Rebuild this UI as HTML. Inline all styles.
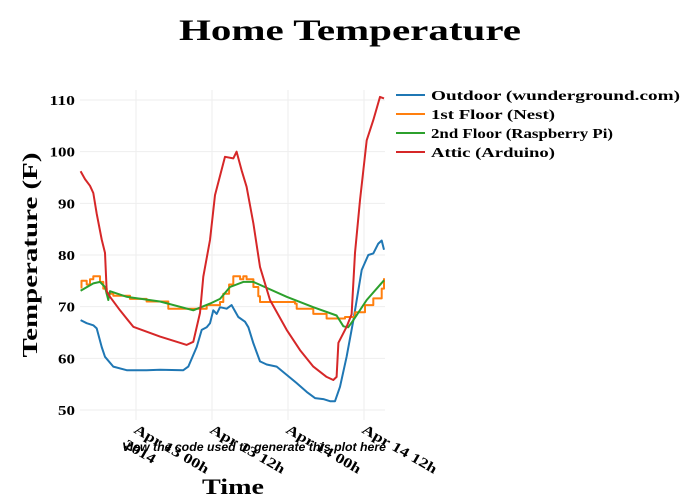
<!DOCTYPE html>
<html><head><meta charset="utf-8"><style>
body{margin:0;background:#fff}
svg{display:block}
text{font-family:"Liberation Serif",serif;font-weight:bold;fill:#000}
</style></head><body>
<svg id="chart" width="700" height="500">
<text x="350" y="40" text-anchor="middle" font-size="30" textLength="342" lengthAdjust="spacingAndGlyphs">Home Temperature</text>
<g id="grid"></g>
<g id="axes"></g>
<g id="series"></g>
<text transform="translate(37,255) rotate(-90)" text-anchor="middle" font-size="21" textLength="205" lengthAdjust="spacingAndGlyphs">Temperature (F)</text>
<text x="233" y="494" text-anchor="middle" font-size="22" textLength="62" lengthAdjust="spacingAndGlyphs">Time</text>
<text x="254" y="451" text-anchor="middle" font-size="12" font-style="italic" style="font-family:'Liberation Sans',sans-serif" textLength="264" lengthAdjust="spacingAndGlyphs">View the code used to generate this plot here</text>
<g id="legend"></g>
</svg>
<script>
const yTicks=[50,60,70,80,90,100,110];
const xTickHours=[0,12,24,36];
const xTickLabels=["Apr 13 00h","Apr 13 12h","Apr 14 00h","Apr 14 12h"];
const seriesNames=["Outdoor (wunderground.com)","1st Floor (Nest)","2nd Floor (Raspberry Pi)","Attic (Arduino)"];
const seriesColors=["#1f77b4","#ff7f0e","#2ca02c","#d62728"];
const outdoorT=[-8.74,-7.79,-6.74,-6.21,-5.42,-4.89,-3.58,-1.47,1.68,3.79,7.47,8.26,9.58,10.37,11.16,11.68,12.21,12.74,13.26,14.32,15.1,16.16,17.21,17.74,18.53,19.58,20.63,22.21,23.79,25.37,26.95,28.26,29.58,30.63,31.42,32.21,33.26,34.32,35.63,36.68,37.47,38.26,38.79,39.16];
const outdoorV=[67.4,66.8,66.4,65.8,62.2,60.3,58.4,57.7,57.7,57.8,57.7,58.4,62.2,65.5,66,66.8,69.3,68.6,69.9,69.6,70.3,68,67.1,66,62.9,59.4,58.8,58.4,56.8,55.2,53.5,52.3,52.1,51.7,51.7,54.5,60.3,67.4,77.1,80,80.3,82.2,82.8,81];
const floor1T=[-8.74,-8.6,-7.79,-7.26,-6.74,-6.21,-5.68,-5.16,-4.63,-3.58,-0.95,1.68,5.1,10.1,11.16,13.26,13.79,14.7,15.37,16.43,16.95,17.47,18.53,19.31,19.58,25.1,25.37,28.0,30.1,32.21,33.0,34.58,36.16,37.47,38.8,39.16];
const floor1V=[73.7,75,74.3,75.3,75.9,75.9,74.8,73.5,72.5,72.1,71.5,71.0,69.6,69.6,70.3,70.9,72.5,74.3,75.9,75.3,75.9,75.3,73.8,72.0,70.9,70.6,69.6,68.6,67.7,67.7,68,68.9,70.3,71.6,73.5,75.5];
const floor2T=[-8.74,-6.74,-5.68,-4.89,-4.37,-4.1,-1.47,3.79,9.05,11.68,13.26,14.84,16.95,18.53,23.79,28.0,31.68,32.74,33.5,34.32,36.42,39.16];
const floor2V=[73.1,74.5,74.8,73.8,71.3,73.0,71.9,71.0,69.3,70.6,71.5,73.8,74.8,74.8,71.9,69.9,68.3,66.2,66.0,67.4,71.3,75.1];
const atticT=[-8.74,-8.05,-7.26,-6.74,-6.21,-5.42,-4.89,-4.63,-4.1,-2.53,-0.42,3.79,6.95,8.0,9.05,10.1,10.63,11.68,12.47,14.05,15.37,15.89,16.68,17.47,18.53,19.58,21.16,23.79,25.89,28.0,30.1,31.16,31.68,31.95,33.26,34.05,34.58,35.37,36.42,37.47,38.53,39.16];
const atticV=[96.2,94.7,93.4,92,88,83,80.4,73,71.9,69.3,66.1,64.2,63,62.6,63.2,68.8,75.8,82.9,91.6,99,98.7,100,96.4,93.2,86.1,77.7,71.3,65.5,61.6,58.4,56.4,55.8,56.4,63,66.1,68.5,80.4,90.6,102.2,106.1,110.6,110.3];

const NS="http://www.w3.org/2000/svg";
const X0=80,X1=385,Y0=410,Y1=100;
const xs=h=>136+(h/12)*76;
const ys=v=>Y0-(v-50)*(Y0-Y1)/60;
function mk(tag,attrs,parent){const e=document.createElementNS(NS,tag);for(const k in attrs)e.setAttribute(k,attrs[k]);parent.appendChild(e);return e;}
const grid=document.getElementById('grid'),axes=document.getElementById('axes'),ser=document.getElementById('series'),leg=document.getElementById('legend');
yTicks.forEach(v=>{
  const l=mk('line',{x1:X0,x2:X1,y1:ys(v),y2:ys(v),stroke:'#eee','stroke-width':1},grid);
  
  
  const s=String(v);
  const t=mk('text',{x:75,y:ys(v)+5,'text-anchor':'end','font-size':14,textLength:s.length*8.5,lengthAdjust:'spacingAndGlyphs'},axes);
  t.textContent=s;
  
  
});
xTickHours.forEach((h,i)=>{
  const l=mk('line',{x1:xs(h),x2:xs(h),y1:Y1-10,y2:Y0+10,stroke:'#eee','stroke-width':1},grid);
  
  
  const t=mk('text',{transform:`translate(${xs(h)-3},${432}) rotate(30)`,'font-size':14,textLength:84,lengthAdjust:'spacingAndGlyphs'},axes);
  t.textContent=xTickLabels[i];
  
  
  if(i===0){
    const t2=mk('text',{transform:`translate(${xs(h)-13},${447}) rotate(30)`,'font-size':14,textLength:34,lengthAdjust:'spacingAndGlyphs'},axes);
    t2.textContent='2014';
    
    
  }
});
function line(T,V,step){
  let d='';
  for(let i=0;i<T.length;i++){
    const x=xs(T[i]).toFixed(1),y=ys(V[i]).toFixed(1);
    if(i===0)d+=`M${x},${y}`;
    else if(step)d+=`H${x}V${y}`;
    else d+=`L${x},${y}`;
  }
  return d;
}
const data=[[outdoorT,outdoorV,false],[floor1T,floor1V,true],[floor2T,floor2V,false],[atticT,atticV,false]];
const names=['outdoor-line','floor1-line','floor2-line','attic-line'];
data.forEach((s,i)=>{
  const p=mk('path',{d:line(s[0],s[1],s[2]),fill:'none',stroke:seriesColors[i],'stroke-width':2,'stroke-linejoin':'round'},ser);
  
  
});
const legW=[249,124,182,124];
seriesNames.forEach((n,i)=>{
  const y=95+i*19;
  const l=mk('line',{x1:396,x2:425,y1:y,y2:y,stroke:seriesColors[i],'stroke-width':2},leg);
  
  
  const t=mk('text',{x:431,y:y+5,'font-size':14,textLength:legW[i],lengthAdjust:'spacingAndGlyphs'},leg);
  t.textContent=n;
  
  
});
</script>
</body></html>
